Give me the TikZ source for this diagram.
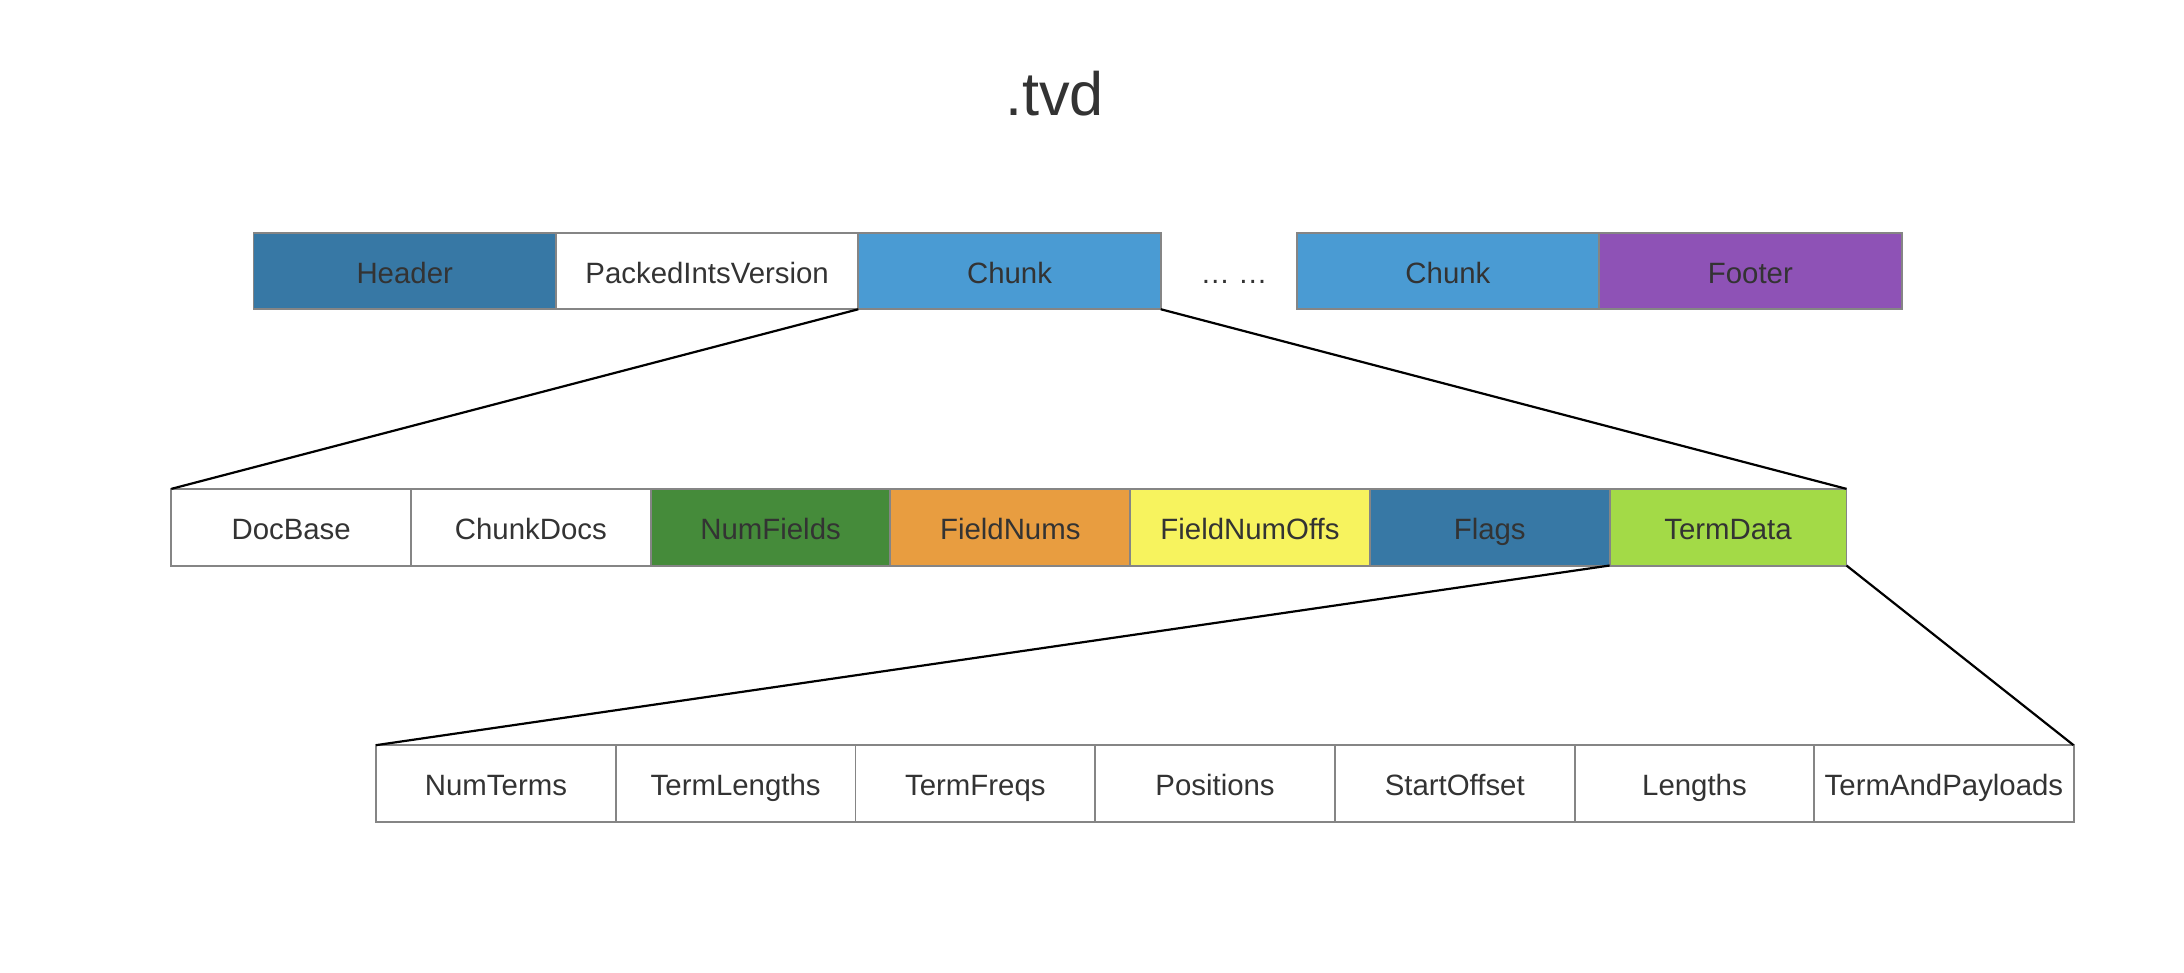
\documentclass[tikz,border=0pt]{standalone}
\usepackage{fontspec}
\setmainfont{Liberation Sans}
\usetikzlibrary{positioning}
\definecolor{txt}{HTML}{333333}
\definecolor{edge}{HTML}{858585}
\definecolor{hdrblue}{HTML}{3778A5}
\definecolor{chunkblue}{HTML}{4A9BD3}
\definecolor{footpurple}{HTML}{8E52B6}
\definecolor{fieldgreen}{HTML}{458B3A}
\definecolor{numorange}{HTML}{E89D40}
\definecolor{offyellow}{HTML}{F7F35E}
\definecolor{termgreen}{HTML}{A3DA47}

\begin{document}
\begin{tikzpicture}[x=0.01cm, y=-0.01cm,
   cell/.style={draw=edge, line width=0.4pt, fill=white, text=txt, font=\fontsize{6}{7}\selectfont,
                inner sep=0pt, outer sep=0pt, minimum height=0.55cm, text height=0.72em, text depth=0.22em},
   wide/.style={cell, minimum width=2.17cm},
   slim/.style={cell, minimum width=1.72cm},
   zoomline/.style={black, line width=0.45pt}]
   \useasboundingbox (0,0) rectangle (1568,698);
   \node (title) at (757,67) [text=txt, font=\fontsize{12.5}{14}\selectfont] {.tvd};
   \node (header) at (182,167) [wide, anchor=north west, fill=hdrblue] {Header};
   \node (piv) [wide, right=0pt of header] {PackedIntsVersion};
   \node (chunka) [wide, right=0pt of piv, fill=chunkblue] {Chunk};
   \node (dots) at (886,195) [text=txt, font=\fontsize{6}{7}\selectfont, text height=0.72em, text depth=0.22em] {… …};
   \node (chunkb) at (931,167) [wide, anchor=north west, fill=chunkblue] {Chunk};
   \node (footer) [wide, right=0pt of chunkb, fill=footpurple] {Footer};
   \node (docbase) at (123,351) [slim, anchor=north west] {DocBase};
   \node (chunkdocs) [slim, right=0pt of docbase] {ChunkDocs};
   \node (numfields) [slim, right=0pt of chunkdocs, fill=fieldgreen] {NumFields};
   \node (fieldnums) [slim, right=0pt of numfields, fill=numorange] {FieldNums};
   \node (fieldnumoffs) [slim, right=0pt of fieldnums, fill=offyellow] {FieldNumOffs};
   \node (flags) [slim, right=0pt of fieldnumoffs, fill=hdrblue] {Flags};
   \node (termdata) [slim, right=0pt of flags, fill=termgreen, minimum width=1.70cm] {TermData};
   \node (numterms) at (270,535) [slim, anchor=north west] {NumTerms};
   \node (termlengths) [slim, right=0pt of numterms] {TermLengths};
   \node (termfreqs) [slim, right=0pt of termlengths] {TermFreqs};
   \node (positions) [slim, right=0pt of termfreqs] {Positions};
   \node (startoffset) [slim, right=0pt of positions] {StartOffset};
   \node (lengths) [slim, right=0pt of startoffset] {Lengths};
   \node (payloads) [slim, right=0pt of lengths, minimum width=1.86cm] {TermAndPayloads};
   \draw[zoomline] (chunka.south west) -- (docbase.north west);
   \draw[zoomline] (chunka.south east) -- (termdata.north east);
   \draw[zoomline] (termdata.south west) -- (numterms.north west);
   \draw[zoomline] (termdata.south east) -- (payloads.north east);
\end{tikzpicture}
\end{document}
